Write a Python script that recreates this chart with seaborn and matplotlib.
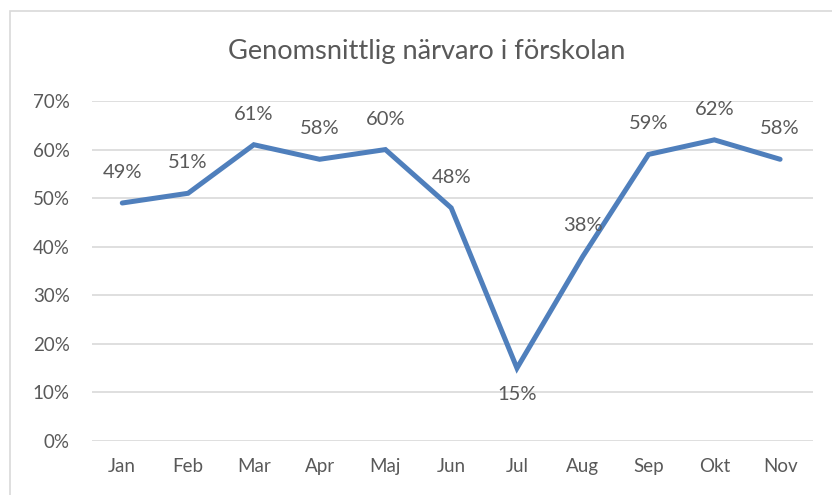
import matplotlib
matplotlib.use("Agg")
import matplotlib.pyplot as plt
import seaborn as sns
import pandas as pd
from matplotlib.patches import Rectangle

# data
months = ["Jan", "Feb", "Mar", "Apr", "Maj", "Jun", "Jul", "Aug", "Sep", "Okt", "Nov"]
narvaro = [49, 51, 61, 58, 60, 48, 15, 38, 59, 62, 58]

df = pd.DataFrame({"month": months, "value": narvaro})
df["pos"] = range(len(months))

sns.set_style("white")
plt.rcParams["font.family"] = ["Lato", "DejaVu Sans"]
txt = "#595959"

fig = plt.figure(figsize=(8.32, 4.95), dpi=100)
ax = fig.add_axes([92 / 832, 1 - 441 / 495, (813 - 92) / 832, (441 - 101) / 495])

# chart frame (Excel style)
fig.patches.append(Rectangle((10 / 832, -0.1), 1.0, 1 - 11 / 495 + 0.1,
                             transform=fig.transFigure, fill=False,
                             edgecolor="#D9D9D9", linewidth=1.2))

sns.lineplot(data=df, x="pos", y="value", ax=ax, color="#4F7FBC",
             linewidth=3.6, solid_joinstyle="miter", zorder=3)

ax.set_xlim(-0.46, 10.5)
ax.set_ylim(0, 70)
ax.set_yticks(range(0, 71, 10))
ax.set_yticklabels([f"{v}%" for v in range(0, 71, 10)])
ax.set_xticks(df["pos"])
ax.set_xticklabels(months)
ax.set_xlabel("")
ax.set_ylabel("")
ax.grid(axis="y", color="#D9D9D9", linewidth=1.2)
ax.set_axisbelow(True)
for s in ax.spines.values():
    s.set_visible(False)
ax.tick_params(axis="y", length=0, pad=16, labelsize=13.5, labelcolor=txt)
ax.tick_params(axis="x", length=0, pad=12, labelsize=13.5, labelcolor=txt)

for x, v in zip(df["pos"], narvaro):
    dy = -19 if v < 20 else 22
    ax.annotate(f"{v}%", (x, v), xytext=(0, dy), textcoords="offset points",
                ha="center", va="center", fontsize=14.5, color=txt, zorder=4)

fig.text(427 / 832, 1 - 51 / 495, "Genomsnittlig närvaro i förskolan",
         ha="center", va="center", fontsize=19.6, color=txt)

fig.savefig("out.png", dpi=100)
